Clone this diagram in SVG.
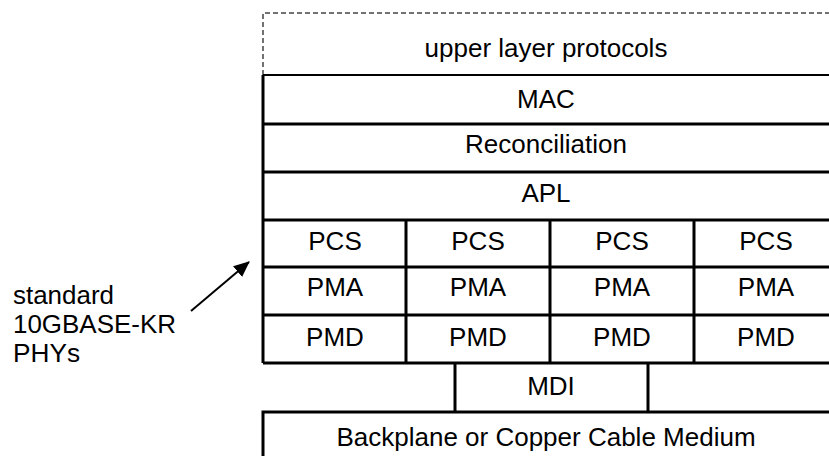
<svg xmlns="http://www.w3.org/2000/svg" width="829" height="456" viewBox="0 0 829 456">
<defs>
<style>
text{font-family:"Liberation Sans",Arial,sans-serif;font-size:26px;fill:#000}
.c{text-anchor:middle}
.lb{font-size:25px}
.l{stroke:#000;stroke-width:3;fill:none}
.d{stroke:#444;stroke-width:1.5;stroke-dasharray:5 3;fill:none}
</style>
<marker id="ah" markerWidth="16" markerHeight="14" refX="15" refY="7" orient="auto" markerUnits="userSpaceOnUse" viewBox="0 0 16 14">
<path d="M0,0 L16,7 L0,14 z" fill="#000"/>
</marker>
</defs>
<rect width="829" height="456" fill="#fff"/>
<g id="upper">
<path class="d" d="M263,75 V13 H829"/>
<text class="c" x="546" y="57">upper layer protocols</text>
</g>
<g id="stack">
<path class="l" d="M263,363 V75" />
<path d="M263,75 H829" stroke="#000" stroke-width="2"/>
<path class="l" d="M263,124 H829 M263,172 H829 M263,220 H829 M263,267 H829 M263,315 H829 M263,363 H829"/>
<path class="l" d="M406,220 V363 M550,220 V363 M694,220 V363"/>
</g>
<g id="mac"><text class="c" x="546" y="108">MAC</text></g>
<g id="rec"><text class="c" x="546" y="153">Reconciliation</text></g>
<g id="apl"><text class="c" x="546" y="202">APL</text></g>
<g id="phy1"><text class="c" x="335" y="250">PCS</text><text class="c" x="335" y="296">PMA</text><text class="c" x="335" y="346">PMD</text></g>
<g id="phy2"><text class="c" x="478" y="250">PCS</text><text class="c" x="478" y="296">PMA</text><text class="c" x="478" y="346">PMD</text></g>
<g id="phy3"><text class="c" x="622" y="250">PCS</text><text class="c" x="622" y="296">PMA</text><text class="c" x="622" y="346">PMD</text></g>
<g id="phy4"><text class="c" x="766" y="250">PCS</text><text class="c" x="766" y="296">PMA</text><text class="c" x="766" y="346">PMD</text></g>
<g id="mdi">
<path class="l" d="M455,363 V412 M648,363 V412"/>
<text class="c" x="551" y="395">MDI</text>
</g>
<g id="medium">
<path class="l" d="M263,456 V412 H829"/>
<text class="c" x="546" y="446">Backplane or Copper Cable Medium</text>
</g>
<g id="label">
<text class="lb" x="13" y="304" textLength="101" lengthAdjust="spacingAndGlyphs">standard</text>
<text class="lb" x="13" y="333" textLength="163" lengthAdjust="spacingAndGlyphs">10GBASE-KR</text>
<text class="lb" x="13" y="362" textLength="67" lengthAdjust="spacingAndGlyphs">PHYs</text>
</g>
<g id="connectors">
<line x1="191" y1="311" x2="249" y2="262" stroke="#000" stroke-width="2" marker-end="url(#ah)"/>
</g>
</svg>
